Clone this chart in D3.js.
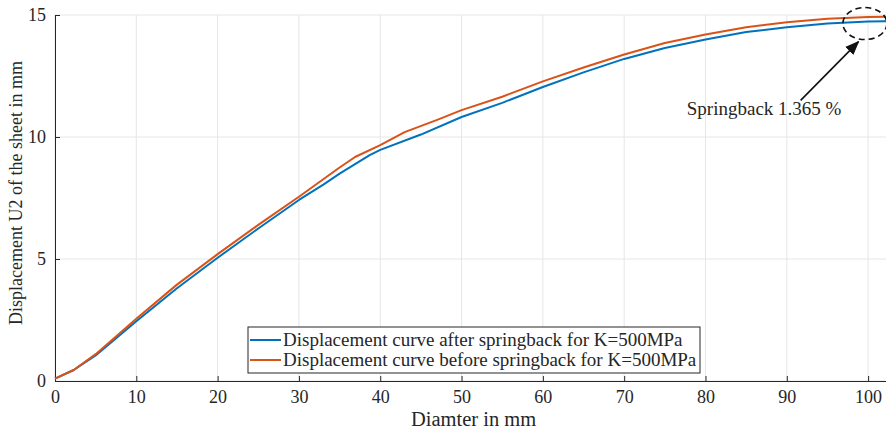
<!DOCTYPE html>
<html>
<head>
<meta charset="utf-8">
<script src="https://cdn.jsdelivr.net/npm/d3@7"></script>
<style>
  body { margin: 0; background: #fff; }
  svg text { font-family: "Liberation Serif", "Times New Roman", serif; fill: #262626; }
</style>
</head>
<body>
<svg id="chart"></svg>
<script>
const width = 886;
const height = 431;

// diameter in mm / displacement U2 in mm
const afterX  = [0, 2.3, 5, 10, 15, 20, 25, 30, 33, 35, 38.7, 40, 45, 50, 55, 60, 65, 70, 75, 80, 85, 90, 95, 100, 102.3];
const afterY  = [0.1, 0.45, 1.05, 2.45, 3.8, 5.05, 6.25, 7.42, 8.05, 8.5, 9.26, 9.47, 10.1, 10.82, 11.4, 12.05, 12.65, 13.2, 13.65, 14.0, 14.3, 14.5, 14.65, 14.73, 14.74];
const beforeX = [0, 2.3, 5, 10, 15, 20, 25, 30, 35, 36.9, 40, 43, 47, 50, 55, 60, 65, 70, 75, 80, 85, 90, 95, 100, 102.3];
const beforeY = [0.1, 0.45, 1.1, 2.55, 3.95, 5.2, 6.4, 7.55, 8.75, 9.18, 9.67, 10.2, 10.7, 11.1, 11.65, 12.28, 12.85, 13.38, 13.85, 14.2, 14.5, 14.7, 14.85, 14.92, 14.93];

const xTicks = [0, 10, 20, 30, 40, 50, 60, 70, 80, 90, 100];
const yTicks = [0, 5, 10, 15];

const seriesNames = [
  "Displacement curve after springback for K=500MPa",
  "Displacement curve before springback for K=500MPa"
];
const seriesColors = ["#0072BD", "#D95319"];

const svg = d3.select("#chart")
  .attr("width", width)
  .attr("height", height);

const margin = {left: 55, right: 0, top: 15, bottom: 50};

const x = d3.scaleLinear().domain([0, 102.2]).range([margin.left, width - margin.right]);
const y = d3.scaleLinear().domain([0, 15]).range([height - margin.bottom, margin.top]);

// grid
svg.append("g")
  .selectAll("line")
  .data(xTicks)
  .enter().append("line")
  .attr("x1", d => x(d)).attr("x2", d => x(d))
  .attr("y1", y(0)).attr("y2", y(15))
  .attr("stroke", "#e6e6e6").attr("stroke-width", 1);

svg.append("g")
  .selectAll("line")
  .data(yTicks)
  .enter().append("line")
  .attr("x1", x(0)).attr("x2", width)
  .attr("y1", d => y(d)).attr("y2", d => y(d))
  .attr("stroke", "#e6e6e6").attr("stroke-width", 1);

// axes (ticks point inward)
const xAxis = svg.append("g")
  .attr("transform", `translate(0,${y(0)})`)
  .call(d3.axisBottom(x).tickValues(xTicks).tickSizeInner(-5).tickSizeOuter(0).tickPadding(9));

const yAxis = svg.append("g")
  .attr("transform", `translate(${x(0)},0)`)
  .call(d3.axisLeft(y).tickValues(yTicks).tickSizeInner(-5).tickSizeOuter(0).tickPadding(9));

[xAxis, yAxis].forEach(a => {
  a.select(".domain").attr("stroke", "#262626");
  a.selectAll(".tick line").attr("stroke", "#262626");
  a.selectAll(".tick text")
    .attr("font-family", "Liberation Serif, Times New Roman, serif")
    .attr("font-size", 18)
    .attr("fill", "#262626");
});

// axis labels
svg.append("text")
  .attr("x", x(50) + 12)
  .attr("y", 426)
  .attr("text-anchor", "middle")
  .attr("font-size", 20.5)
  .text("Diamter in mm");

svg.append("text")
  .attr("transform", `translate(22,${y(7.5) - 5}) rotate(-90)`)
  .attr("text-anchor", "middle")
  .attr("font-size", 18)
  .text("Displacement U2 of the sheet in mm");

// curves
const line = d3.line().x(d => x(d[0])).y(d => y(d[1]));
const series = [
  d3.zip(afterX, afterY),
  d3.zip(beforeX, beforeY)
];

series.forEach((s, i) => {
  svg.append("path")
    .datum(s)
    .attr("fill", "none")
    .attr("stroke", seriesColors[i])
    .attr("stroke-width", 2)
    .attr("stroke-linejoin", "round")
    .attr("d", line);
});

// annotation: dashed ellipse + arrow + text
svg.append("ellipse")
  .attr("cx", x(99.6))
  .attr("cy", y(14.65))
  .attr("rx", 22)
  .attr("ry", 16)
  .attr("fill", "none")
  .attr("stroke", "#111")
  .attr("stroke-width", 1.6)
  .attr("stroke-dasharray", "6,4");

svg.append("defs").append("marker")
  .attr("id", "arrow")
  .attr("viewBox", "0 0 10 10")
  .attr("refX", 9).attr("refY", 5)
  .attr("markerWidth", 9).attr("markerHeight", 9)
  .attr("orient", "auto")
  .append("path")
  .attr("d", "M0,1 L10,5 L0,9 z")
  .attr("fill", "#111");

svg.append("line")
  .attr("x1", x(91.7)).attr("y1", y(11.5))
  .attr("x2", x(98.8)).attr("y2", y(13.9))
  .attr("stroke", "#111")
  .attr("stroke-width", 1.6)
  .attr("marker-end", "url(#arrow)");

svg.append("text")
  .attr("x", x(77.7))
  .attr("y", y(10.9))
  .attr("font-size", 19)
  .text("Springback 1.365 %");

// legend
const lg = svg.append("g").attr("transform", "translate(248,327)");
lg.append("rect")
  .attr("width", 452).attr("height", 46)
  .attr("fill", "#fff")
  .attr("stroke", "#262626").attr("stroke-width", 1);

seriesNames.forEach((name, i) => {
  const row = lg.append("g").attr("transform", `translate(0,${13 + i * 20})`);
  row.append("line")
    .attr("x1", 2).attr("x2", 33)
    .attr("stroke", seriesColors[i]).attr("stroke-width", 2);
  row.append("text")
    .attr("x", 35).attr("y", 6)
    .attr("font-size", 19)
    .text(name);
});
</script>
</body>
</html>
